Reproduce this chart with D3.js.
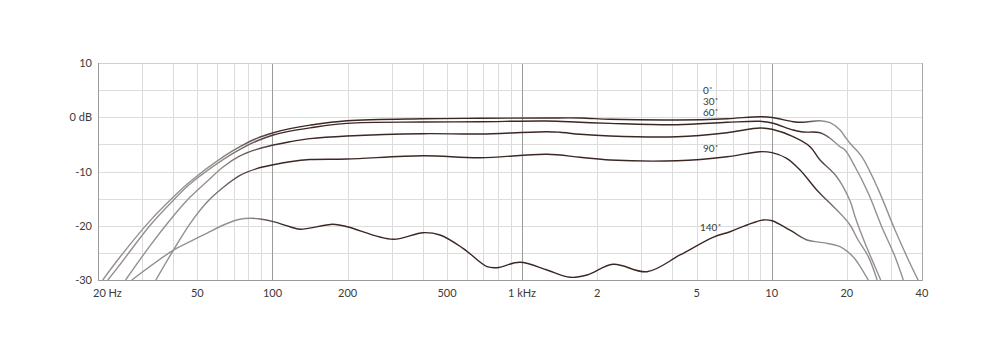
<!DOCTYPE html>
<html>
<head>
<meta charset="utf-8">
<script src="https://cdn.jsdelivr.net/npm/d3@7"></script>
<style>
  body { margin: 0; background: #fff; }
  text { font-family: Lato, "Open Sans", sans-serif; fill: #3a3a3a; }
</style>
</head>
<body>
<div id="chart"></div>
<script>
// frequency response, [Hz, dB]
const curve0 = [[20.9,-30],[24.5,-25.76],[32.3,-19.1],[40.1,-14.7],[46.7,-11.88],[63.6,-7.27],[74.1,-5.43],[86.5,-3.88],[100.8,-2.85],
  [117.5,-2.1],[141.4,-1.45],[198.9,-0.64],[401,-0.27],[678,-0.19],[1258,-0.14],[1708,-0.14],
  [2250,-0.38],[4175,-0.51],[6620,-0.27],[8978,0.1],[10030,-0.05],[12180,-0.82],[13350,-0.93],
  [15620,-0.64],[17130,-1.0],[18780,-2.35],[19660,-3.59],[20590,-4.8],[22940,-7.27],
  [26660,-13.2],[31190,-20.8],[35290,-26.3],[38600,-30]];
const curve30 = [[21.9,-30],[24.5,-27.15],[32.3,-19.95],[40.1,-15.29],[46.7,-12.3],[63.6,-7.75],[74.1,-5.91],[86.5,-4.38],[100.8,-3.27],
  [117.5,-2.55],[141.4,-1.95],[198.9,-1.12],[401,-0.88],[678,-0.82],[1258,-0.69],[1708,-0.93],
  [2250,-1.12],[4175,-1.37],[6620,-0.93],[8978,-0.75],[10030,-1.05],[12180,-2.35],[13350,-2.72],
  [15620,-2.85],[17130,-3.88],[18780,-5.43],[19660,-6.04],[21570,-9.12],[24380,-14.02],
  [27590,-20.18],[31190,-25.7],[33660,-30]];
const curve60 = [[25.8,-30],[32.3,-23.71],[40.1,-18.2],[46.7,-14.76],[54.5,-11.88],[63.6,-9.12],[74.1,-7.14],[86.5,-5.91],
  [100.8,-5.12],[117.5,-4.51],[141.4,-3.95],[198.9,-3.46],[401,-3.03],[678,-3.09],[1258,-2.66],
  [1419,-2.77],[1708,-3.14],[2250,-3.46],[4175,-3.59],[6620,-2.85],[8978,-1.98],[10030,-2.22],
  [12180,-3.59],[14240,-5.43],[15620,-7.88],[18210,-10.96],[20590,-15.4],[21570,-18.33],
  [23650,-23.24],[25930,-27.55],[27330,-30]];
const curve90 = [[34.1,-30],[40.1,-24.5],[46.7,-19.64],[54.5,-15.71],[63.6,-12.91],[74.1,-10.72],
  [86.5,-9.47],[100.8,-8.75],[117.5,-8.2],[141.4,-7.8],[198.9,-7.7],[401,-7.09],[678,-7.46],
  [1258,-6.83],[1708,-7.38],[2250,-7.88],[4175,-8.01],[6620,-7.27],[8978,-6.35],[10030,-6.53],
  [11480,-7.57],[12990,-9.72],[15150,-13.41],[16610,-15.25],[18780,-17.7],[20590,-19.86],
  [22190,-22.63],[24380,-25.7],[26440,-30]];
const curve140 = [[27.3,-30],[40.1,-24.5],[46.7,-22.94],[54.5,-21.39],[63.6,-19.86],[74.1,-18.81],
  [81.3,-18.63],[89.1,-18.76],[100.8,-19.25],[117.5,-20.18],[128.9,-20.65],[174.8,-19.73],
  [198.9,-20.18],[304,-22.5],[401,-21.28],[469,-21.71],[580,-24.16],[724,-27.55],[794,-27.73],
  [981,-26.74],[1258,-28.16],[1557,-29.5],[1821,-29.08],[2313,-27.11],[3166,-28.47],
  [4292,-25.39],[5818,-22.13],[6806,-21.1],[7962,-19.86],[9230,-18.94],[10030,-19.07],
  [11840,-20.8],[13850,-22.63],[16060,-23.12],[18780,-23.86],[21170,-25.7],[22190,-26.92],
  [24380,-30]];

const seriesNames = ["0˚", "30˚", "60˚", "90˚", "140˚"];
const seriesData = [curve0, curve30, curve60, curve90, curve140];

const xTickValues = [20, 50, 100, 200, 500, 1000, 2000, 5000, 10000, 20000, 40000];
const xTickLabels = ["20 Hz", "50", "100", "200", "500", "1 kHz", "2", "5", "10", "20", "40"];
const yTickValues = [10, 0, -10, -20, -30];
const yTickLabels = ["10", "0 dB", "-10", "-20", "-30"];

// styling
const labelPos = [[703, 94], [703, 105], [703, 116], [703, 152], [700, 231]];
const darkRange = [[60, 110, 13000, 16000], [60, 110, 15000, 18000], [60, 110, 15000, 19000],
  [50, 90, 15000, 19000], [80, 110, 12000, 15000]];
const dark = "#3b2724", grey = "#958f8e";

const width = 1000, height = 357;
const mLeft = 98, mRight = 922, mTop = 63, mBottom = 280;

const x = d3.scaleLog().domain([20, 40000]).range([mLeft, mRight]);
const y = d3.scaleLinear().domain([-30, 10]).range([mBottom, mTop]);

const svg = d3.select("#chart").append("svg")
  .attr("width", width).attr("height", height);

const defs = svg.append("defs");
defs.append("clipPath").attr("id", "plot")
  .append("rect").attr("x", mLeft).attr("y", mTop)
  .attr("width", mRight - mLeft).attr("height", mBottom - mTop);

// grid
const minor = [];
[10, 100, 1000, 10000].forEach(d => {
  for (let k = 1; k < 10; k++) {
    const f = d * k;
    if (f > 20 && f < 40000) minor.push(f);
  }
});
const majors = [100, 1000, 10000];

svg.append("g").selectAll("line")
  .data(d3.range(-25, 10, 5))
  .join("line")
  .attr("x1", mLeft).attr("x2", mRight)
  .attr("y1", d => Math.round(y(d)) + 0.5).attr("y2", d => Math.round(y(d)) + 0.5)
  .attr("stroke", "#dcdcdc");

svg.append("g").selectAll("line")
  .data(minor.filter(f => !majors.includes(f)))
  .join("line")
  .attr("x1", d => Math.round(x(d)) + 0.5).attr("x2", d => Math.round(x(d)) + 0.5)
  .attr("y1", mTop).attr("y2", mBottom)
  .attr("stroke", "#dcdcdc");

svg.append("g").selectAll("line")
  .data(majors)
  .join("line")
  .attr("x1", d => Math.round(x(d)) + 0.5).attr("x2", d => Math.round(x(d)) + 0.5)
  .attr("y1", mTop).attr("y2", mBottom)
  .attr("stroke", "#9a9a9a");

// frame
svg.append("line").attr("x1", mLeft).attr("x2", mRight).attr("y1", mTop + 0.5).attr("y2", mTop + 0.5)
  .attr("stroke", "#d0d0d0");
svg.append("line").attr("x1", mLeft).attr("x2", mRight).attr("y1", mBottom + 0.5).attr("y2", mBottom + 0.5)
  .attr("stroke", "#9a9a9a");
svg.append("line").attr("x1", mLeft + 0.5).attr("x2", mLeft + 0.5).attr("y1", mTop).attr("y2", mBottom + 1)
  .attr("stroke", "#9a9a9a");
svg.append("line").attr("x1", mRight + 0.5).attr("x2", mRight + 0.5).attr("y1", mTop).attr("y2", mBottom + 1)
  .attr("stroke", "#a8a8a8");

// axis labels
svg.append("g").selectAll("text")
  .data(yTickValues)
  .join("text")
  .attr("x", 92).attr("y", d => y(d) + 4)
  .attr("text-anchor", "end")
  .attr("font-size", 11)
  .text((d, i) => yTickLabels[i]);

svg.append("g").selectAll("text")
  .data(xTickValues)
  .join("text")
  .attr("x", (d, i) => i === 0 ? x(d) - 5 : x(d))
  .attr("y", 297)
  .attr("text-anchor", (d, i) => i === 0 ? "start" : "middle")
  .attr("font-size", 11)
  .text((d, i) => xTickLabels[i]);

// curves
const line = d3.line()
  .x(d => x(d[0]))
  .y(d => y(d[1]))
  .curve(d3.curveCatmullRom.alpha(0.5));

seriesData.forEach((data, i) => {
  const r = darkRange[i];
  const g = defs.append("linearGradient")
    .attr("id", "grad" + i)
    .attr("gradientUnits", "userSpaceOnUse")
    .attr("x1", 0).attr("x2", width).attr("y1", 0).attr("y2", 0);
  const stops = [[r[0], grey], [r[1], dark], [r[2], dark], [r[3], grey]];
  stops.forEach(s => g.append("stop")
    .attr("offset", x(s[0]) / width)
    .attr("stop-color", s[1]));

  svg.append("path")
    .datum(data)
    .attr("clip-path", "url(#plot)")
    .attr("fill", "none")
    .attr("stroke", "url(#grad" + i + ")")
    .attr("stroke-width", 1.4)
    .attr("d", line);
});

svg.append("g").selectAll("text")
  .data(seriesNames)
  .join("text")
  .attr("x", (d, i) => labelPos[i][0])
  .attr("y", (d, i) => labelPos[i][1])
  .attr("font-size", 10)
  .attr("fill", "#2a2a2a")
  .text(d => d);
</script>
</body>
</html>
